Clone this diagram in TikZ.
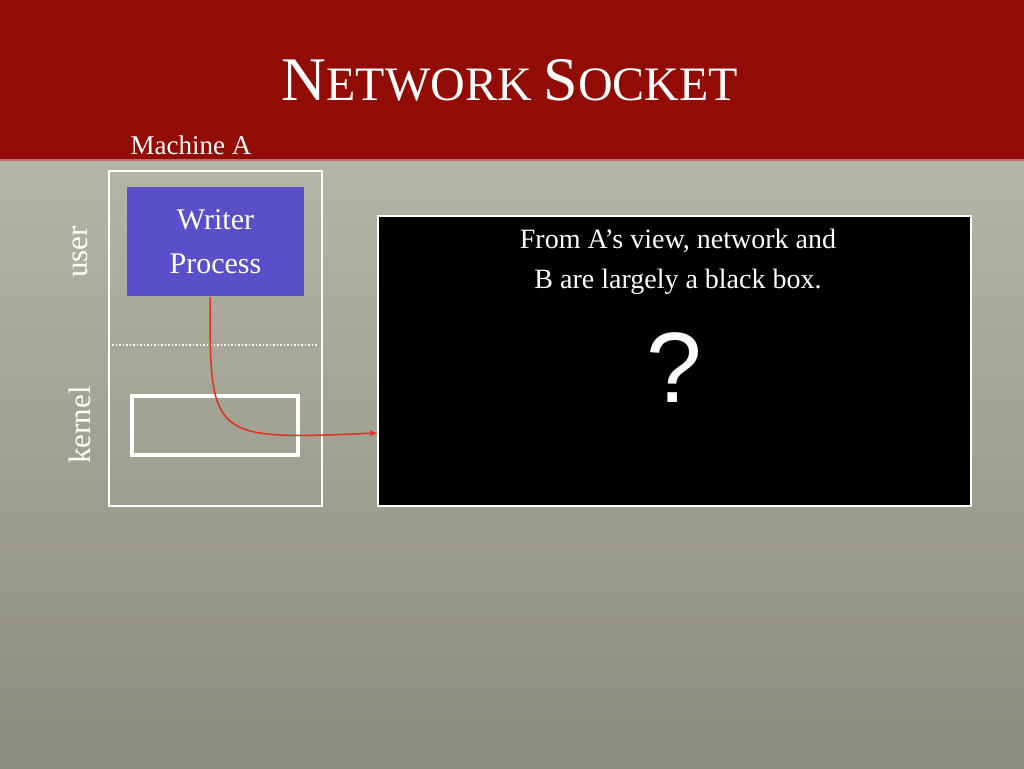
\documentclass[tikz,border=0pt]{standalone}
\usepackage{fontspec}
\setmainfont{Liberation Serif}
\newfontfamily\qfont{Liberation Sans}
\usetikzlibrary{positioning,arrows.meta}
\definecolor{banner}{HTML}{930B05}
\definecolor{bgtop}{HTML}{B4B5A6}
\definecolor{bgbot}{HTML}{8C8B7F}
\definecolor{procblue}{HTML}{5A4FC8}
\definecolor{arrowred}{HTML}{E0301E}
\newcommand{\titlecap}[1]{{\fontsize{62}{66}\selectfont #1}}
\begin{document}
\begin{tikzpicture}[x=1pt, y=-1pt,
  lbl/.style={text=white, font=\fontsize{27}{32}\selectfont},
  sidelbl/.style={lbl, rotate=90, font=\fontsize{31}{36}\selectfont}]

% ---------- background ----------
\useasboundingbox (0,0) rectangle (1024,768);
\shade[top color=bgtop, bottom color=bgbot] (0,160) rectangle (1024,768);
\fill[banner] (0,0) rectangle (1024,160);
\draw[banner!60!white, line width=1.5pt] (0,160) -- (1024,160);
\node[text=white, font=\fontsize{48}{52}\selectfont] (title) at (510,80)
  {\titlecap{N}ETWORK \titlecap{S}OCKET};
\node[lbl, anchor=west] (machA) at (127,145) {Machine A};

% ---------- Machine A ----------
\draw[white, line width=1.5pt] (109,171) rectangle (322,506);
\node[fill=procblue, minimum width=177pt, minimum height=109pt, inner sep=0pt,
  align=center, lbl, font=\fontsize{30}{44}\selectfont] (writer) at (215.5,241.5) {Writer\\Process};
\draw[white, dotted, line width=1.5pt] (112,345) -- (318,345);
\node[draw=white, line width=3.5pt, minimum width=166pt, minimum height=59pt] (kbuf) at (215,425.5) {};
\node[sidelbl] (user) at (80,252) {user};
\node[sidelbl] (kernel) at (80,425) {kernel};

% ---------- black box ----------
\node[draw=white, line width=1.5pt, fill=black, minimum width=593pt, minimum height=290pt, inner sep=0pt] (net) at (674.5,361) {};
\node[lbl, align=center, font=\fontsize{28}{40}\selectfont] (view) at (678,262) {From A’s view, network and\\B are largely a black box.};
\node[text=white, font=\fontsize{100}{100}\selectfont\qfont] (q) at (674,368) {?};

% ---------- write path ----------
\draw[arrowred, line width=1.5pt, -{Stealth[length=8pt,width=6pt]}] (210,297) .. controls (210,440) .. (net.west |- 0,433);
\end{tikzpicture}
\end{document}
